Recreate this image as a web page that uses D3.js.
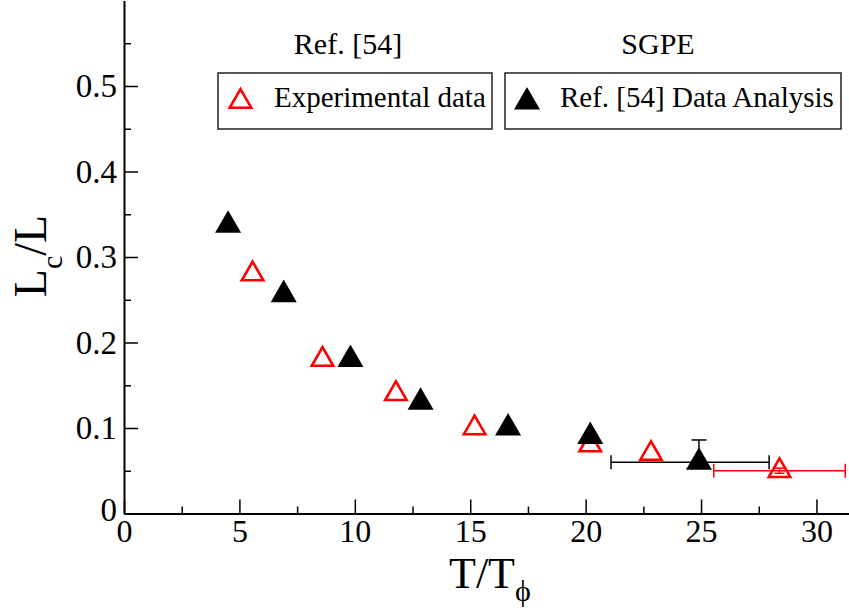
<!DOCTYPE html>
<html>
<head>
<meta charset="utf-8">
<script src="https://cdn.jsdelivr.net/npm/d3@7"></script>
<style>
  html, body { margin: 0; padding: 0; background: #fff; }
</style>
</head>
<body>
<svg id="chart" width="849" height="614"></svg>
<script>
// ---- data ----
const expX = [5.57, 8.6, 11.78, 15.19, 20.2, 22.83, 28.4];
const expY = [0.28, 0.18, 0.14, 0.10, 0.08, 0.07, 0.05];
const sgpeX = [4.51, 6.92, 9.81, 12.85, 16.64, 20.2, 24.91];
const sgpeY = [0.337, 0.256, 0.18, 0.13, 0.10, 0.09, 0.06];
// error bars: [x, y, xLo, xHi, yLo, yHi]
const expErr = [[28.4, 0.05, 25.55, 31.25, 0.047, 0.053]];
const sgpeErr = [[24.91, 0.06, 21.1, 27.95, 0.06, 0.086]];
const xMajorTicks = [0, 5, 10, 15, 20, 25, 30];
const xMinorTicks = [2.5, 7.5, 12.5, 17.5, 22.5, 27.5];
const yMajorTicks = [0, 0.1, 0.2, 0.3, 0.4, 0.5];
const yMinorTicks = [0.05, 0.15, 0.25, 0.35, 0.45, 0.55];
const legendTitles = ["Ref. [54]", "SGPE"];
const legendLabels = ["Experimental data", "Ref. [54] Data Analysis"];

const FONT = `"Liberation Serif"`;
const svg = d3.select("#chart");
const x = d3.scaleLinear().domain([0, 31.67]).range([124, 855]);
const y = d3.scaleLinear().domain([0, 0.6]).range([513.5, 0.5]);

// ---- axes ----
function styleAxis(g, fs) {
  g.attr("font-family", null).attr("font-size", null);
  g.select(".domain").attr("stroke", "#000").attr("stroke-width", 2);
  g.selectAll(".tick line").attr("stroke", "#000").attr("stroke-width", 1.5);
  g.selectAll(".tick text").attr("fill", "#000").style("font-size", fs + "px")
    .style("font-family", FONT);
}
const gxMinor = svg.append("g").attr("transform", `translate(0,${y(0)})`)
  .call(d3.axisBottom(x).tickValues(xMinorTicks).tickSize(-7).tickSizeOuter(0).tickFormat(""));
styleAxis(gxMinor, 32);
gxMinor.select(".domain").remove();
const gyMinor = svg.append("g").attr("transform", `translate(${x(0)},0)`)
  .call(d3.axisLeft(y).tickValues(yMinorTicks).tickSize(-7).tickSizeOuter(0).tickFormat(""));
styleAxis(gyMinor, 32);
gyMinor.select(".domain").remove();

const gx = svg.append("g").attr("transform", `translate(0,${y(0)})`)
  .call(d3.axisBottom(x).tickValues(xMajorTicks).tickSize(-14).tickSizeOuter(0)
    .tickPadding(6).tickFormat(d3.format("d")));
styleAxis(gx, 32);
const gy = svg.append("g").attr("transform", `translate(${x(0)},0)`)
  .call(d3.axisLeft(y).tickValues(yMajorTicks).tickSize(-14).tickSizeOuter(0)
    .tickPadding(7).tickFormat(d => d === 0 ? "0" : d.toFixed(1)));
styleAxis(gy, 33);
gy.selectAll(".tick text").filter(d => d === 0).attr("dy", "0.2em");

// ---- axis titles ----
const xt = svg.append("text").attr("x", 449).attr("y", 588)
  .style("font-size", "44px").style("font-family", FONT).attr("fill", "#000");
xt.append("tspan").text("T/T");
xt.append("tspan").style("font-size", "30px").attr("dy", 13).text("ϕ");

const yt = svg.append("text").attr("transform", "translate(46,256) rotate(-90)")
  .attr("text-anchor", "middle").style("font-size", "46px").style("font-family", FONT).attr("fill", "#000");
yt.append("tspan").text("L");
yt.append("tspan").style("font-size", "30px").attr("dy", 16).text("c");
yt.append("tspan").attr("dy", -16).text("/L");

// ---- error bars ----
function drawErr(data, color, capX, capY) {
  const g = svg.append("g").attr("stroke", color).attr("stroke-width", 1.5).attr("fill", "none");
  data.forEach(([px, py, xl, xh, yl, yh]) => {
    g.append("line").attr("x1", x(xl)).attr("x2", x(xh)).attr("y1", y(py)).attr("y2", y(py));
    g.append("line").attr("x1", x(xl)).attr("x2", x(xl)).attr("y1", y(py) - capX / 2).attr("y2", y(py) + capX / 2);
    g.append("line").attr("x1", x(xh)).attr("x2", x(xh)).attr("y1", y(py) - capX / 2).attr("y2", y(py) + capX / 2);
    if (yh > py) {
      g.append("line").attr("x1", x(px)).attr("x2", x(px)).attr("y1", y(py)).attr("y2", y(yh));
      g.append("line").attr("x1", x(px) - capY / 2).attr("x2", x(px) + capY / 2).attr("y1", y(yh)).attr("y2", y(yh));
    }
    if (yl < py) {
      g.append("line").attr("x1", x(px)).attr("x2", x(px)).attr("y1", y(py)).attr("y2", y(yl));
      g.append("line").attr("x1", x(px) - capY / 2).attr("x2", x(px) + capY / 2).attr("y1", y(yl)).attr("y2", y(yl));
    }
  });
}
drawErr(expErr, "#ff0000", 14, 10);
drawErr(sgpeErr, "#000", 14, 15);

// ---- markers ----
const triHollow = d3.symbol().type(d3.symbolTriangle).size(200);
const triFilled = d3.symbol().type(d3.symbolTriangle).size(293);
svg.append("g").selectAll("path").data(expX).join("path")
  .attr("d", triHollow)
  .attr("transform", (d, i) => `translate(${x(d)},${y(expY[i])})`)
  .attr("fill", "none").attr("stroke", "#ff0000").attr("stroke-width", 2.6)
  .attr("stroke-linejoin", "miter");
svg.append("g").selectAll("path").data(sgpeX).join("path")
  .attr("d", triFilled)
  .attr("transform", (d, i) => `translate(${x(d)},${y(sgpeY[i])})`)
  .attr("fill", "#000");

// ---- legend ----
const titleX = [348, 658];
svg.selectAll("text.ltitle").data(legendTitles).join("text").attr("class", "ltitle")
  .attr("x", (d, i) => titleX[i]).attr("y", 54).attr("text-anchor", "middle")
  .style("font-size", "30px").style("font-family", FONT).attr("fill", "#000").text(d => d);

const boxes = [[218, 492], [505, 841]];
boxes.forEach(([x0, x1]) => {
  svg.append("rect").attr("x", x0).attr("y", 73).attr("width", x1 - x0).attr("height", 56)
    .attr("fill", "#fff").attr("stroke", "#222").attr("stroke-width", 1.5);
});
svg.append("path").attr("d", triHollow).attr("transform", "translate(240.5,101.5)")
  .attr("fill", "none").attr("stroke", "#ff0000").attr("stroke-width", 2.6);
svg.append("path").attr("d", triFilled).attr("transform", "translate(527,102)")
  .attr("fill", "#000");
const labelX = [274, 560];
svg.selectAll("text.llabel").data(legendLabels).join("text").attr("class", "llabel")
  .attr("x", (d, i) => labelX[i]).attr("y", 107)
  .style("font-size", "29px").style("font-family", FONT).attr("fill", "#000").text(d => d);
</script>
</body>
</html>
